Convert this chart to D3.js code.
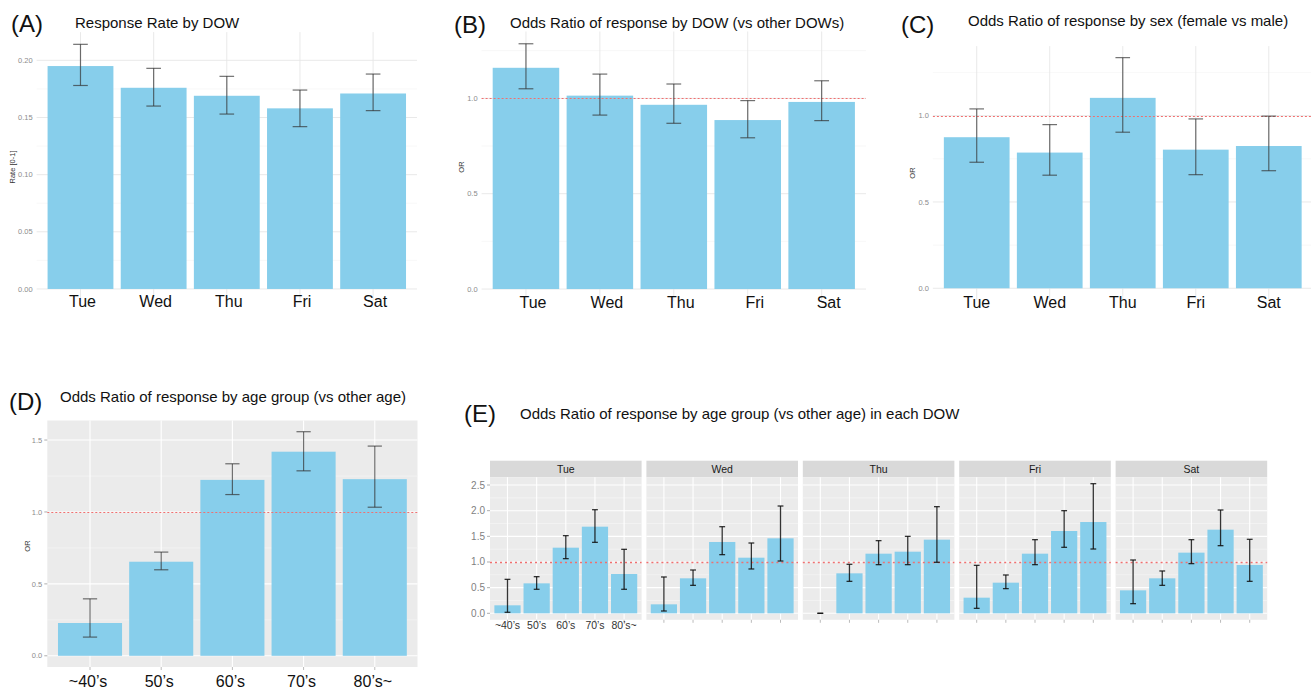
<!DOCTYPE html>
<html>
<head>
<meta charset="utf-8">
<script src="https://cdn.jsdelivr.net/npm/d3@7"></script>
<style>
body { margin: 0; background: #fff; }
svg { display: block; font-family: "Liberation Sans", Arial, Helvetica, sans-serif; }
</style>
</head>
<body>
<div id="chart"></div>
<script>
// Categories
const dows = ["Tue", "Wed", "Thu", "Fri", "Sat"];
const ageGroups = ["~40’s", "50’s", "60’s", "70’s", "80’s~"];

// (A) response rate by DOW
const rateA = [0.195, 0.176, 0.169, 0.158, 0.171];
const lowA  = [0.178, 0.160, 0.153, 0.142, 0.156];
const highA = [0.214, 0.193, 0.186, 0.174, 0.188];

// (B) OR by DOW vs other DOWs
const orB   = [1.160, 1.014, 0.966, 0.886, 0.981];
const lowB  = [1.050, 0.912, 0.869, 0.793, 0.883];
const highB = [1.286, 1.127, 1.075, 0.988, 1.092];

// (C) OR by sex (female vs male)
const orC   = [0.875, 0.786, 1.103, 0.803, 0.824];
const lowC  = [0.730, 0.655, 0.904, 0.658, 0.681];
const highC = [1.039, 0.948, 1.336, 0.981, 0.997];

// (D) OR by age group
const orD   = [0.228, 0.654, 1.223, 1.419, 1.228];
const lowD  = [0.130, 0.598, 1.121, 1.286, 1.033];
const highD = [0.396, 0.721, 1.335, 1.558, 1.458];

// (E) OR by age group in each DOW (rows = dows)
const orE = [
  [0.156, 0.584, 1.279, 1.688, 0.766],
  [0.175, 0.682, 1.390, 1.084, 1.461],
  [0.000, 0.779, 1.162, 1.201, 1.435],
  [0.305, 0.597, 1.162, 1.604, 1.779],
  [0.448, 0.682, 1.182, 1.630, 0.942]
];
const lowE = [
  [0.020, 0.468, 1.065, 1.383, 0.468],
  [0.045, 0.545, 1.143, 0.864, 1.019],
  [0.000, 0.623, 0.948, 0.948, 0.994],
  [0.097, 0.481, 0.948, 1.286, 1.253],
  [0.188, 0.545, 0.968, 1.318, 0.623]
];
const highE = [
  [0.662, 0.714, 1.513, 2.019, 1.247],
  [0.708, 0.844, 1.688, 1.370, 2.091],
  [0.000, 0.955, 1.416, 1.500, 2.078],
  [0.935, 0.747, 1.435, 2.000, 2.526],
  [1.039, 0.825, 1.435, 2.013, 1.442]
];

// Tick values
const ticksA = [0, 0.05, 0.10, 0.15, 0.20];
const ticksOR = [0, 0.5, 1.0];
const ticksD = [0, 0.5, 1.0, 1.5];
const ticksE = [0, 0.5, 1.0, 1.5, 2.0, 2.5];

const W = 1311, H = 692;
const barColor = "#87CEEB";
const refColor = "#f07070";

const svg = d3.select("#chart")
    .append("svg")
    .attr("width", W)
    .attr("height", H);

// ggplot-like expanded domain
function expandedDomain(highs) {
    const m = d3.max(highs);
    return [-0.05 * m, 1.05 * m];
}

function drawPanel(o) {
    const g = svg.append("g");
    const x = d3.scaleBand()
        .domain(o.cats)
        .range([o.left, o.right])
        .paddingInner(0.1)
        .paddingOuter(0.15);
    const y = d3.scaleLinear()
        .domain(o.domain)
        .range([o.bottom, o.top]);

    const gray = o.theme === "gray";
    if (gray) {
        g.append("rect")
            .attr("x", o.left).attr("y", o.top)
            .attr("width", o.right - o.left).attr("height", o.bottom - o.top)
            .attr("fill", "#EBEBEB");
    }
    const majorCol = gray ? "#fff" : "#e6e6e6";
    const minorCol = gray ? "#f6f6f6" : "#f3f3f3";

    // minor gridlines between major ticks
    const stepT = o.ticks[1] - o.ticks[0];
    const minor = d3.range(o.ticks[0] - stepT / 2, o.domain[1], stepT)
        .filter(v => v > o.domain[0] && v < o.domain[1]);
    g.selectAll(".minor").data(minor).join("line")
        .attr("x1", o.left).attr("x2", o.right)
        .attr("y1", d => y(d)).attr("y2", d => y(d))
        .attr("stroke", minorCol).attr("stroke-width", 0.6);
    g.selectAll(".major").data(o.ticks).join("line")
        .attr("x1", o.left).attr("x2", o.right)
        .attr("y1", d => y(d)).attr("y2", d => y(d))
        .attr("stroke", majorCol).attr("stroke-width", gray ? 1.1 : 0.9);
    g.selectAll(".vgrid").data(o.cats).join("line")
        .attr("x1", d => x(d) + x.bandwidth() / 2).attr("x2", d => x(d) + x.bandwidth() / 2)
        .attr("y1", o.top).attr("y2", o.bottom)
        .attr("stroke", majorCol).attr("stroke-width", gray ? 1.1 : 0.9);

    // bars
    g.selectAll(".bar").data(o.cats).join("rect")
        .attr("x", d => x(d))
        .attr("width", x.bandwidth())
        .attr("y", (d, i) => y(o.vals[i]))
        .attr("height", (d, i) => y(0) - y(o.vals[i]))
        .attr("fill", barColor);

    // reference line at OR = 1 (snapped to the pixel grid so it stays crisp)
    if (o.refLine) {
        const ry = Math.round(y(1)) + 0.5;
        g.append("line")
            .attr("x1", o.left).attr("x2", o.right)
            .attr("y1", ry).attr("y2", ry)
            .attr("stroke", refColor)
            .attr("stroke-width", o.refWidth || 1)
            .attr("stroke-dasharray", o.refDash || "2,2");
    }

    // error bars
    const cap = x.step() * 0.2;
    const eb = g.selectAll(".eb").data(o.cats).join("g")
        .attr("transform", d => `translate(${x(d) + x.bandwidth() / 2},0)`)
        .attr("stroke", o.errColor)
        .attr("stroke-opacity", o.errOpacity)
        .attr("stroke-width", o.errWidth);
    eb.append("line").attr("y1", (d, i) => y(o.lows[i])).attr("y2", (d, i) => y(o.highs[i]));
    eb.append("line").attr("x1", -cap / 2).attr("x2", cap / 2)
        .attr("y1", (d, i) => y(o.lows[i])).attr("y2", (d, i) => y(o.lows[i]));
    eb.append("line").attr("x1", -cap / 2).attr("x2", cap / 2)
        .attr("y1", (d, i) => y(o.highs[i])).attr("y2", (d, i) => y(o.highs[i]));

    // y axis tick labels
    if (o.yLabels) {
        g.selectAll(".ytl").data(o.ticks).join("text")
            .attr("x", o.left - o.yLabelGap)
            .attr("y", d => y(d))
            .attr("dy", "0.35em")
            .attr("text-anchor", "end")
            .attr("font-size", o.yLabelSize)
            .attr("fill", o.yLabelColor)
            .text(d => d3.format(o.tickFmt)(d));
        if (o.yTickMarks) {
            g.selectAll(".ytm").data(o.ticks).join("line")
                .attr("x1", o.left - 3).attr("x2", o.left)
                .attr("y1", d => y(d)).attr("y2", d => y(d))
                .attr("stroke", "#999").attr("stroke-width", 0.8);
        }
    }
    if (o.xTickMarks) {
        g.selectAll(".xtm").data(o.cats).join("line")
            .attr("x1", d => x(d) + x.bandwidth() / 2).attr("x2", d => x(d) + x.bandwidth() / 2)
            .attr("y1", o.bottom).attr("y2", o.bottom + 3)
            .attr("stroke", "#aaa").attr("stroke-width", 0.8);
    }
    if (o.xLabels) {
        g.selectAll(".xtl").data(o.cats).join("text")
            .attr("x", d => x(d) + x.bandwidth() / 2 + (o.xLabelShift || 0))
            .attr("y", o.xLabelY)
            .attr("text-anchor", "middle")
            .attr("font-size", o.xLabelSize)
            .attr("fill", o.xLabelColor || "#111")
            .text(d => d);
    }
    if (o.yTitle) {
        g.append("text")
            .attr("transform", `translate(${o.yTitle.x},${o.yTitle.y}) rotate(-90)`)
            .attr("text-anchor", "middle")
            .attr("dy", "0.35em")
            .attr("font-size", 7.5)
            .attr("fill", "#333")
            .text(o.yTitle.text);
    }
    return { x, y };
}

function heading(tag, tx, ty, title, ttx, tty) {
    svg.append("text")
        .attr("x", tx).attr("y", ty)
        .attr("font-size", 24)
        .attr("fill", "#111")
        .text(tag);
    svg.append("text")
        .attr("x", ttx).attr("y", tty)
        .attr("font-size", 15)
        .attr("fill", "#111")
        .text(title);
}

const minimalStyle = {
    theme: "minimal", yLabels: true, yLabelGap: 4, yLabelSize: 7.5, yLabelColor: "#8c8c8c",
    errColor: "#333", errOpacity: 0.7, errWidth: 1.2, xLabelSize: 16
};

// (A)
heading("(A)", 11, 32, "Response Rate by DOW", 75, 28);
drawPanel(Object.assign({}, minimalStyle, {
    cats: dows, vals: rateA, lows: lowA, highs: highA,
    left: 36.6, right: 417, top: 32.1, bottom: 301.2,
    domain: expandedDomain(highA), ticks: ticksA, tickFmt: ".2f",
    xLabels: true, xLabelY: 307, xLabelShift: 2,
    yTitle: { x: 12, y: 167, text: "Rate [0-1]" }
}));

// (B)
heading("(B)", 454, 33, "Odds Ratio of response by DOW (vs other DOWs)", 510, 28);
drawPanel(Object.assign({}, minimalStyle, {
    cats: dows, vals: orB, lows: lowB, highs: highB,
    left: 481.6, right: 866, top: 31.5, bottom: 301.3,
    domain: expandedDomain(highB), ticks: ticksOR, tickFmt: ".1f",
    refLine: true,
    xLabels: true, xLabelY: 308, xLabelShift: 7,
    yTitle: { x: 461, y: 167, text: "OR" }
}));

// (C)
heading("(C)", 901, 33, "Odds Ratio of response by sex (female vs male)", 968, 26);
drawPanel(Object.assign({}, minimalStyle, {
    cats: dows, vals: orC, lows: lowC, highs: highC,
    left: 932.9, right: 1312.6, top: 46.1, bottom: 299.8,
    domain: expandedDomain(highC), ticks: ticksOR, tickFmt: ".1f",
    refLine: true,
    xLabels: true, xLabelY: 308, xLabelShift: 0,
    yTitle: { x: 912, y: 173, text: "OR" }
}));

// (D)
heading("(D)", 9, 410, "Odds Ratio of response by age group (vs other age)", 60, 402);
drawPanel({
    theme: "gray", yLabels: true, yLabelGap: 5, yLabelSize: 7.5, yLabelColor: "#8c8c8c", yTickMarks: true,
    errColor: "#333", errOpacity: 0.7, errWidth: 1.2,
    cats: ageGroups, vals: orD, lows: lowD, highs: highD,
    left: 47.3, right: 417.5, top: 420.5, bottom: 667,
    domain: expandedDomain(highD), ticks: ticksD, tickFmt: ".1f",
    refLine: true, xTickMarks: true,
    xLabels: true, xLabelY: 687, xLabelSize: 16, xLabelShift: -2,
    yTitle: { x: 27, y: 546, text: "OR" }
});

// (E) facets
heading("(E)", 464, 422, "Odds Ratio of response by age group (vs other age) in each DOW", 520, 419);
const domainE = expandedDomain(highE.flat());
const facetW = 151.6, facetStep = 156.4, facetLeft = 490;
const stripTop = 460.7, panelTopE = 477.2, panelBottomE = 619.8;
dows.forEach((day, i) => {
    const left = facetLeft + i * facetStep;
    svg.append("rect")
        .attr("x", left).attr("y", stripTop)
        .attr("width", facetW).attr("height", panelTopE - stripTop)
        .attr("fill", "#D9D9D9");
    svg.append("text")
        .attr("x", left + facetW / 2).attr("y", stripTop + 12.5)
        .attr("text-anchor", "middle")
        .attr("font-size", 10.5)
        .attr("fill", "#1a1a1a")
        .text(day);
    drawPanel({
        theme: "gray",
        yLabels: i === 0, yLabelGap: 5, yLabelSize: 10, yLabelColor: "#7f7f7f", yTickMarks: true,
        errColor: "#111", errOpacity: 0.85, errWidth: 1.3,
        cats: ageGroups, vals: orE[i], lows: lowE[i], highs: highE[i],
        left: left, right: left + facetW, top: panelTopE, bottom: panelBottomE,
        domain: domainE, ticks: ticksE, tickFmt: ".1f",
        refLine: true, refWidth: 1.6, refDash: "2,3",
        xTickMarks: true,
        xLabels: i === 0, xLabelY: 629, xLabelSize: 10.5, xLabelColor: "#333"
    });
});
</script>
</body>
</html>
